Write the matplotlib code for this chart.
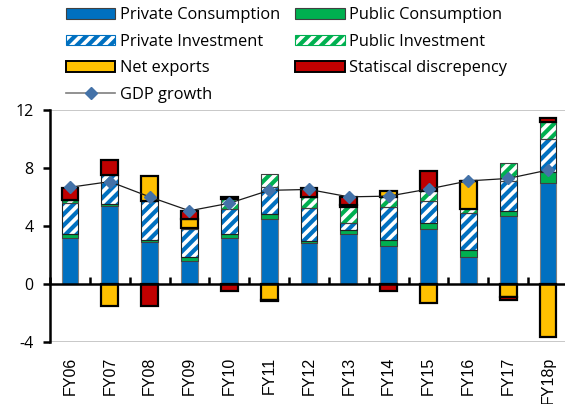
import matplotlib
matplotlib.use("Agg")
import matplotlib.pyplot as plt
import numpy as np
from matplotlib.patches import Patch
from matplotlib.lines import Line2D

categories = ["FY06", "FY07", "FY08", "FY09", "FY10", "FY11", "FY12",
              "FY13", "FY14", "FY15", "FY16", "FY17", "FY18p"]
private_consumption = [3.17, 5.38, 2.87, 1.56, 3.20, 4.46, 2.80, 3.43, 2.64, 3.77, 1.89, 4.69, 6.94]
public_consumption = [0.30, 0.16, 0.16, 0.33, 0.27, 0.34, 0.17, 0.29, 0.39, 0.46, 0.45, 0.34, 0.81]
private_investment = [2.12, 1.98, 2.69, 1.88, 1.70, 1.91, 2.30, 0.46, 2.26, 1.52, 2.53, 2.07, 2.23]
public_investment = [0.21, 0.00, 0.00, 0.11, 0.67, 0.88, 0.76, 1.15, 0.73, 0.69, 0.28, 1.27, 1.22]
net_exports = [0.00, -1.52, 1.75, 0.62, 0.15, -1.10, 0.00, 0.12, 0.42, -1.29, 1.95, -0.92, -3.63]
stat_discrepancy = [0.84, 1.01, -1.52, 0.53, -0.46, -0.07, 0.57, 0.55, -0.46, 1.38, 0.00, -0.18, 0.27]
gdp_growth = [6.67, 7.06, 6.01, 5.05, 5.57, 6.46, 6.52, 6.01, 6.06, 6.55, 7.11, 7.28, 7.86]
yticks = [-4, 0, 4, 8, 12]

plt.rcParams['font.family'] = ['Open Sans', 'DejaVu Sans']
plt.rcParams['hatch.linewidth'] = 3.0

BLUE = '#0070C0'
GREEN = '#00B050'
YELLOW = '#FFC000'
RED = '#C00000'

fig = plt.figure(figsize=(5.65, 4.04), dpi=100)
ax = fig.add_axes([50/565, (404-342)/404, 518/565, 232/404])

x = np.arange(len(categories))
w = 0.42
pos = np.zeros(len(x))
neg = np.zeros(len(x))

series = [
    (private_consumption, BLUE, None, '#7f7f7f', 0.8),
    (public_consumption, GREEN, None, '#404040', 0.8),
    (private_investment, BLUE, '///', '#202020', 0.8),
    (public_investment, GREEN, '///', '#404040', 0.8),
    (net_exports, YELLOW, None, '#000000', 1.6),
    (stat_discrepancy, RED, None, '#000000', 1.6),
]
for vals, col, hatch, ec, lw in series:
    v = np.array(vals)
    bottoms = np.where(v >= 0, pos, neg)
    if hatch:
        ax.bar(x, v, w, bottom=bottoms, color='white', edgecolor=col,
               hatch=hatch, linewidth=0, zorder=2)
        ax.bar(x, v, w, bottom=bottoms, fill=False, edgecolor=ec,
               linewidth=lw, zorder=3)
    else:
        ax.bar(x, v, w, bottom=bottoms, color=col, edgecolor=ec,
               linewidth=lw, zorder=3)
    pos = pos + np.where(v >= 0, v, 0)
    neg = neg + np.where(v < 0, v, 0)

ax.plot(x, gdp_growth, color='#1a1a1a', lw=0.9, marker='D', ms=6.5,
        mfc='#4472A8', mec='#4472A8', zorder=5)

ax.set_xlim(-0.5, len(x) - 0.5)
ax.set_ylim(-4, 12)
ax.set_yticks(yticks)
ax.set_yticklabels([str(t) for t in yticks], fontsize=11.5)
ax.axhline(12, color='#bfbfbf', lw=1.2, zorder=1)
ax.axhline(-4, color='#bfbfbf', lw=1.2, zorder=1)

for s in ['top', 'right']:
    ax.spines[s].set_visible(False)
ax.spines['left'].set_linewidth(1.8)
ax.spines['left'].set_bounds(-4, 12)
ax.spines['bottom'].set_position(('data', 0))
ax.spines['bottom'].set_linewidth(1.8)
ax.spines['bottom'].set_zorder(4)
ax.tick_params(axis='y', direction='out', length=5, width=1.8, pad=7)
ax.set_xticks(x)
ax.set_xticklabels([])
ax.tick_params(axis='x', which='major', length=0)
ax.set_xticks(np.arange(len(x) + 1) - 0.5, minor=True)
ax.tick_params(axis='x', which='minor', direction='in', length=5, width=1.8)

for xi, lab in zip(x, categories):
    ax.text(xi, -0.064, lab, transform=ax.get_xaxis_transform(), rotation=90,
            ha='center', va='top', fontsize=11.5, family=['Liberation Sans', 'DejaVu Sans'])

handles = [
    Patch(facecolor=BLUE, edgecolor='#404040', lw=0.8),
    Patch(facecolor='white', edgecolor=BLUE, hatch='///', lw=0.8),
    Patch(facecolor=YELLOW, edgecolor='black', lw=1.4),
    Line2D([0], [0], color='#7f7f7f', lw=1.2, marker='D', ms=6, mfc='#4472A8', mec='#4472A8'),
    Patch(facecolor=GREEN, edgecolor='#404040', lw=0.8),
    Patch(facecolor='white', edgecolor=GREEN, hatch='///', lw=0.8),
    Patch(facecolor=RED, edgecolor='black', lw=1.4),
]
labels = ["Private Consumption", "Private Investment", "Net exports", "GDP growth",
          "Public Consumption", "Public Investment", "Statiscal discrepency"]
fig.legend(handles, labels, ncol=2, loc='upper left', bbox_to_anchor=(63/565, 1 - 4/404),
           frameon=False, fontsize=11.8, handlelength=3.0, handleheight=0.65,
           handletextpad=0.3, columnspacing=0.9, labelspacing=0.64,
           borderaxespad=0, borderpad=0.2)

fig.savefig("out.png", dpi=100)
